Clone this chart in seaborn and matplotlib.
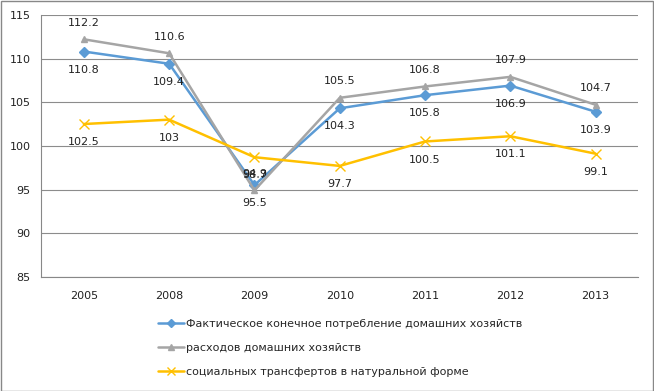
import matplotlib
matplotlib.use("Agg")
import matplotlib.pyplot as plt
from matplotlib.patches import Rectangle
import seaborn as sns
import pandas as pd

years = ["2005", "2008", "2009", "2010", "2011", "2012", "2013"]
fact = [110.8, 109.4, 95.5, 104.3, 105.8, 106.9, 103.9]
rashod = [112.2, 110.6, 94.9, 105.5, 106.8, 107.9, 104.7]
social = [102.5, 103, 98.7, 97.7, 100.5, 101.1, 99.1]
names = ["Фактическое конечное потребление домашних хозяйств",
         "расходов домашних хозяйств",
         "социальных трансфертов в натуральной форме"]

colors = ["#5B9BD5", "#A5A5A5", "#FFC000"]
markers = ["D", "^", "x"]
offsets = [-13, 12, -13]   # label under/over the point

rows = []
for name, vals in zip(names, [fact, rashod, social]):
    for i, v in enumerate(vals):
        rows.append({"pos": i, "val": v, "series": name})
df = pd.DataFrame(rows)

sns.set_style("white")
plt.rcParams["font.family"] = ["DejaVu Sans"]

fig = plt.figure(figsize=(6.54, 3.91), dpi=100)
ax = fig.add_axes([0.063, 0.292, 0.913, 0.670])

for name, col, mk in zip(names, colors, markers):
    sub = df[df["series"] == name]
    sns.lineplot(data=sub, x="pos", y="val", ax=ax, color=col, marker=mk,
                 markersize=5 if mk != "x" else 7, markeredgecolor=col,
                 markeredgewidth=1 if mk != "x" else 1.0,
                 linewidth=1.8, label=name)

for name, off in zip(names, offsets):
    sub = df[df["series"] == name]
    for x, v in zip(sub["pos"], sub["val"]):
        ax.annotate(f"{v:g}", (x, v), xytext=(0, off), textcoords="offset points",
                    ha="center", va="center", fontsize=8, color="#222222")

ax.set_xlim(-0.5, len(years) - 0.5)
ax.set_ylim(85, 115)
ax.set_yticks(range(85, 116, 5))
ax.set_xticks(range(len(years)))
ax.set_xticklabels(years)
ax.set_xticks([i - 0.5 for i in range(len(years) + 1)], minor=True)
ax.tick_params(axis="x", which="major", length=0, labelsize=8, pad=10, colors="#222222")
ax.tick_params(axis="x", which="minor", length=4, color="#888888", direction="out")
ax.tick_params(axis="y", length=4, color="#888888", direction="out", labelsize=8, colors="#222222")
ax.grid(axis="y", color="#8c8c8c", linewidth=0.8)
ax.set_xlabel("")
ax.set_ylabel("")
for s in ["top", "right"]:
    ax.spines[s].set_visible(False)
for s in ["left", "bottom"]:
    ax.spines[s].set_color("#888888")

handles, labels = ax.get_legend_handles_labels()
ax.get_legend().remove()
fig.legend(handles, labels, loc="center", bbox_to_anchor=(0.52, 0.11),
           frameon=False, fontsize=8, labelspacing=1.25, handlelength=2.4,
           handletextpad=0.2, markerscale=0.8)

fig.add_artist(Rectangle((0.001, 0.001), 0.997, 0.997, transform=fig.transFigure,
                         fill=False, edgecolor="#888888", linewidth=1))

fig.savefig("out.png", dpi=100)
